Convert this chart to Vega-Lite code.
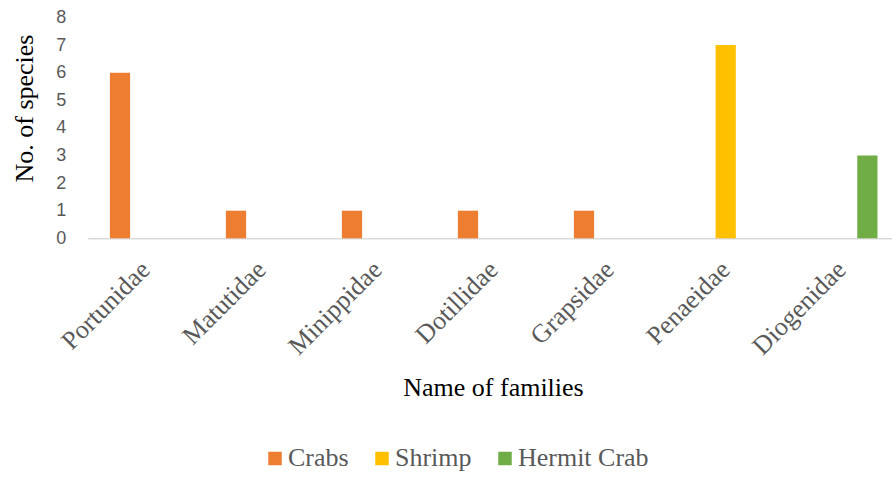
{
  "$schema": "https://vega.github.io/schema/vega-lite/v6.json",
  "autosize": {"type": "none"},
  "width": 804,
  "height": 220.8,
  "padding": {"left": 87.7, "top": 17.5, "right": 0, "bottom": 238.7},
  "background": "white",
  "config": {
    "font": "Liberation Serif",
    "view": {"stroke": null},
    "legend": {"labelFont": "Liberation Serif", "labelFontSize": 26, "labelColor": "#595959"}
  },
  "data": {
    "values": [
      {"family": "Portunidae", "group": "Crabs", "species": 6},
      {"family": "Matutidae", "group": "Crabs", "species": 1},
      {"family": "Minippidae", "group": "Crabs", "species": 1},
      {"family": "Dotillidae", "group": "Crabs", "species": 1},
      {"family": "Grapsidae", "group": "Crabs", "species": 1},
      {"family": "Penaeidae", "group": "Shrimp", "species": 7},
      {"family": "Diogenidae", "group": "Hermit Crab", "species": 3}
    ]
  },
  "mark": {"type": "bar"},
  "encoding": {
    "x": {
      "field": "family",
      "type": "nominal",
      "sort": null,
      "scale": {"range": [0, 812], "paddingInner": 0, "paddingOuter": 0},
      "axis": {
        "title": "Name of families",
        "titleFont": "Liberation Serif",
        "titleFontSize": 26,
        "titleFontWeight": "normal",
        "titleColor": "#000000",
        "titleX": 405.3,
        "titleY": 157.4,
        "titleAlign": "center",
        "titleBaseline": "alphabetic",
        "labelAngle": -45,
        "labelAlign": "right",
        "labelBaseline": "middle",
        "labelFont": "Liberation Serif",
        "labelFontSize": 26,
        "labelColor": "#595959",
        "labelPadding": 27,
        "labelOverlap": false,
        "labelBound": false,
        "ticks": false,
        "domainColor": "#D9D9D9",
        "domainWidth": 1.5
      }
    },
    "xOffset": {
      "field": "group",
      "type": "nominal",
      "scale": {"domain": ["Crabs", "Shrimp", "Hermit Crab"], "paddingInner": 0.2126, "paddingOuter": 0.863}
    },
    "y": {
      "field": "species",
      "type": "quantitative",
      "scale": {"domain": [0, 8], "nice": false},
      "axis": {
        "title": "No. of species",
        "titleFont": "Liberation Serif",
        "titleFontSize": 26,
        "titleFontWeight": "normal",
        "titleColor": "#000000",
        "titleAngle": -90,
        "titleX": -54.7,
        "titleY": 90.5,
        "titleAlign": "center",
        "titleBaseline": "alphabetic",
        "values": [0, 1, 2, 3, 4, 5, 6, 7, 8],
        "labelFont": "Liberation Sans",
        "labelFontSize": 18,
        "labelColor": "#595959",
        "labelPadding": 22,
        "grid": false,
        "domain": false,
        "ticks": false
      }
    },
    "color": {
      "field": "group",
      "type": "nominal",
      "scale": {"domain": ["Crabs", "Shrimp", "Hermit Crab"], "range": ["#ED7D31", "#FFC000", "#70AD47"]},
      "legend": {
        "title": null,
        "orient": "none",
        "direction": "horizontal",
        "legendX": 174.3,
        "legendY": 428,
        "padding": 0,
        "symbolType": "square",
        "symbolSize": 182,
        "symbolStrokeWidth": 0,
        "symbolOpacity": 1,
        "labelFont": "Liberation Serif",
        "labelFontSize": 26,
        "labelColor": "#595959",
        "labelOffset": 0,
        "columnPadding": 20,
        "labelLimit": 300
      }
    }
  }
}
